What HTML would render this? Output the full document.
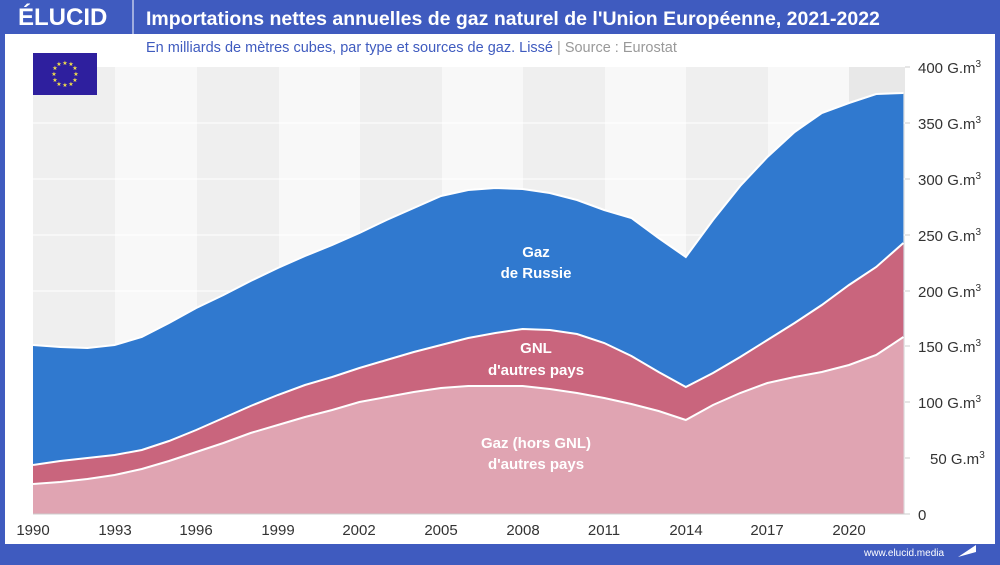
<!DOCTYPE html>
<html><head><meta charset="utf-8"><style>
body{margin:0;width:1000px;height:560px;overflow:hidden;background:#3f5bbf;font-family:"Liberation Sans",sans-serif}
</style></head><body>
<svg width="1000" height="560" viewBox="0 0 1000 560" xmlns="http://www.w3.org/2000/svg" font-family="Liberation Sans, sans-serif">
<rect x="0" y="0" width="1000" height="560" fill="#3f5bbf"/>
<rect x="5" y="34" width="990" height="510" fill="#fff"/>
<text x="18" y="25" fill="#fff" font-size="24" font-weight="bold">ÉLUCID</text>
<line x1="133" y1="0" x2="133" y2="34" stroke="#fff" stroke-width="1"/>
<text x="146" y="25" fill="#fff" font-size="19.5" font-weight="bold">Importations nettes annuelles de gaz naturel de l'Union Européenne, 2021-2022</text>
<text x="146" y="52" fill="#3f5bbf" font-size="14.5">En milliards de mètres cubes, par type et sources de gaz. Lissé <tspan fill="#999"> |  Source : Eurostat</tspan></text>
<g>
<rect x="33" y="67" width="872" height="447" fill="#f8f8f8"/>
<rect x="33" y="67" width="82" height="447" fill="#efefef"/>
<rect x="197" y="67" width="82" height="447" fill="#efefef"/>
<rect x="360" y="67" width="82" height="447" fill="#efefef"/>
<rect x="523" y="67" width="82" height="447" fill="#efefef"/>
<rect x="686" y="67" width="82" height="447" fill="#efefef"/>
<rect x="849" y="67" width="56" height="447" fill="#e8e8e8"/>
<g stroke="#fff" stroke-width="1"><line x1="33" y1="123" x2="905" y2="123"/><line x1="33" y1="179" x2="905" y2="179"/><line x1="33" y1="235" x2="905" y2="235"/><line x1="33" y1="291" x2="905" y2="291"/></g>
</g>
<rect x="33" y="53" width="64" height="42" fill="#2e1f9e"/>
<g fill="#f3e04a" font-size="6" text-anchor="middle">
<text x="65" y="65">★</text><text x="71" y="66">★</text><text x="75" y="70">★</text><text x="76" y="76">★</text><text x="75" y="82">★</text><text x="71" y="86">★</text><text x="65" y="87">★</text><text x="59" y="86">★</text><text x="55" y="82">★</text><text x="54" y="76">★</text><text x="55" y="70">★</text><text x="59" y="66">★</text>
</g>
<polygon fill="#3079cf" points="33,345 60.2,347 87.4,348 114.6,345 141.8,337 169,323 196.2,308 223.4,295 250.6,281 277.8,268 305,256 332.2,245 359.4,233 386.6,220 413.8,208 441,196 468.2,190 495.4,188 522.6,189 549.8,193 577,200 604.2,210 631.4,218 658.6,238 685.8,257 713,220 740.2,186 767.4,157 794.6,132 821.8,113 849,103 876.2,94 903.4,93 903.4,514 33,514"/>
<polygon fill="#c9657d" points="33,465 60.2,461 87.4,458 114.6,455 141.8,450 169,441 196.2,430 223.4,418 250.6,406 277.8,395 305,385 332.2,377 359.4,368 386.6,360 413.8,352 441,345 468.2,338 495.4,333 522.6,329 549.8,330 577,334 604.2,343 631.4,356 658.6,372 685.8,387 713,373 740.2,357 767.4,340 794.6,323 821.8,305 849,285 876.2,267 903.4,243 903.4,514 33,514"/>
<polygon fill="#e0a4b2" points="33,484 60.2,482 87.4,479 114.6,475 141.8,469 169,461 196.2,452 223.4,443 250.6,433 277.8,425 305,417 332.2,410 359.4,402 386.6,397 413.8,392 441,388 468.2,386 495.4,386 522.6,386 549.8,389 577,393 604.2,398 631.4,404 658.6,411 685.8,420 713,405 740.2,393 767.4,383 794.6,377 821.8,372 849,365 876.2,355 903.4,337 903.4,514 33,514"/>
<g fill="none" stroke="#fff" stroke-width="2">
<polyline points="33,345 60.2,347 87.4,348 114.6,345 141.8,337 169,323 196.2,308 223.4,295 250.6,281 277.8,268 305,256 332.2,245 359.4,233 386.6,220 413.8,208 441,196 468.2,190 495.4,188 522.6,189 549.8,193 577,200 604.2,210 631.4,218 658.6,238 685.8,257 713,220 740.2,186 767.4,157 794.6,132 821.8,113 849,103 876.2,94 903.4,93"/>
<polyline points="33,465 60.2,461 87.4,458 114.6,455 141.8,450 169,441 196.2,430 223.4,418 250.6,406 277.8,395 305,385 332.2,377 359.4,368 386.6,360 413.8,352 441,345 468.2,338 495.4,333 522.6,329 549.8,330 577,334 604.2,343 631.4,356 658.6,372 685.8,387 713,373 740.2,357 767.4,340 794.6,323 821.8,305 849,285 876.2,267 903.4,243"/>
<polyline points="33,484 60.2,482 87.4,479 114.6,475 141.8,469 169,461 196.2,452 223.4,443 250.6,433 277.8,425 305,417 332.2,410 359.4,402 386.6,397 413.8,392 441,388 468.2,386 495.4,386 522.6,386 549.8,389 577,393 604.2,398 631.4,404 658.6,411 685.8,420 713,405 740.2,393 767.4,383 794.6,377 821.8,372 849,365 876.2,355 903.4,337"/>
</g>
<g fill="#fff" font-size="15" font-weight="bold" text-anchor="middle">
<text x="536" y="257">Gaz</text><text x="536" y="278">de Russie</text>
<text x="536" y="353">GNL</text><text x="536" y="375">d'autres pays</text>
<text x="536" y="448">Gaz (hors GNL)</text><text x="536" y="469">d'autres pays</text>
</g>
<line x1="33" y1="514" x2="910" y2="514" stroke="#ccc"/>
<g stroke="#ccc"><line x1="905" y1="67" x2="910" y2="67"/><line x1="905" y1="123" x2="910" y2="123"/><line x1="905" y1="179" x2="910" y2="179"/><line x1="905" y1="235" x2="910" y2="235"/><line x1="905" y1="291" x2="910" y2="291"/><line x1="905" y1="346" x2="910" y2="346"/><line x1="905" y1="402" x2="910" y2="402"/><line x1="905" y1="458" x2="910" y2="458"/></g>
<g fill="#333" font-size="15">
<text x="918" y="73">400 G.m<tspan font-size="10" dy="-6">3</tspan></text>
<text x="918" y="129">350 G.m<tspan font-size="10" dy="-6">3</tspan></text>
<text x="918" y="185">300 G.m<tspan font-size="10" dy="-6">3</tspan></text>
<text x="918" y="241">250 G.m<tspan font-size="10" dy="-6">3</tspan></text>
<text x="918" y="297">200 G.m<tspan font-size="10" dy="-6">3</tspan></text>
<text x="918" y="352">150 G.m<tspan font-size="10" dy="-6">3</tspan></text>
<text x="918" y="408">100 G.m<tspan font-size="10" dy="-6">3</tspan></text>
<text x="930" y="464">50 G.m<tspan font-size="10" dy="-6">3</tspan></text>
<text x="918" y="520">0</text>
</g>
<g fill="#333" font-size="15" text-anchor="middle">
<text x="33" y="535">1990</text><text x="115" y="535">1993</text><text x="196" y="535">1996</text><text x="278" y="535">1999</text><text x="359" y="535">2002</text><text x="441" y="535">2005</text><text x="523" y="535">2008</text><text x="604" y="535">2011</text><text x="686" y="535">2014</text><text x="767" y="535">2017</text><text x="849" y="535">2020</text>
</g>
<text x="864" y="556" fill="#fff" font-size="10">www.elucid.media</text>
<polygon points="958,557 976,552 976,545" fill="#fff"/>
</svg>
</body></html>
